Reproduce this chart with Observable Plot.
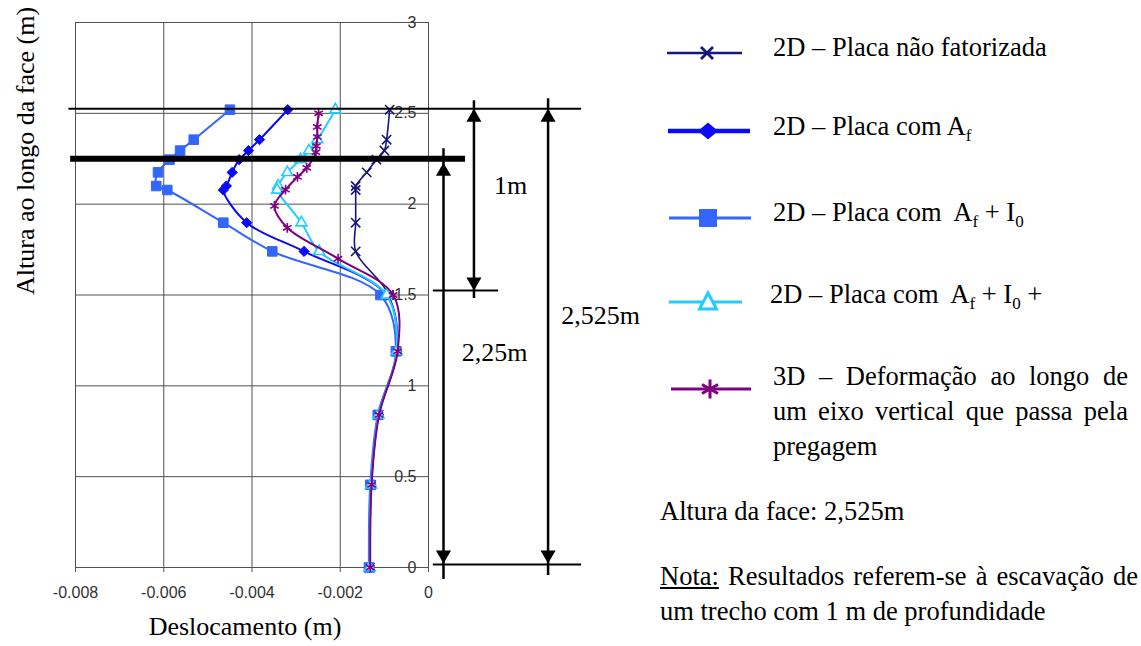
<!DOCTYPE html>
<html>
<head>
<meta charset="utf-8">
<script src="https://cdn.jsdelivr.net/npm/d3@7"></script>
<script src="https://cdn.jsdelivr.net/npm/@observablehq/plot@0.6"></script>
<style>
  body { margin: 0; background: #fff; }
  #fig { position: relative; width: 1141px; height: 646px; overflow: hidden;
         font-family: "Liberation Serif", "Times New Roman", serif; color: #000; }
  #chart { position: absolute; left: 0; top: 0; }
  .txt { position: absolute; font-family: "Liberation Serif", "Times New Roman", serif;
         font-size: 26.5px; line-height: 35px; white-space: nowrap; }
  .just { text-align: justify; text-align-last: justify; }
  .sub { font-size: 17px; position: relative; top: 6px; }
  .nota { text-decoration: underline; }
  .sym { position: absolute; left: 650px; width: 110px; height: 30px; overflow: visible; }
</style>
</head>
<body>
<div id="fig">
  <div id="chart"></div>
</div>
<script>
// Alturas (m) dos nós dos modelos 2D, do topo da face até à base
const alturas2D = [2.52, 2.355, 2.295, 2.245, 2.175, 2.10, 2.078, 1.898, 1.74, 1.5, 1.19, 0.84, 0.455, 0];
// Alturas (m) dos nós do eixo vertical do modelo 3D
const alturas3D = [2.50, 2.425, 2.37, 2.32, 2.286, 2.20, 2.15, 2.08, 1.99, 1.87, 1.70, 1.5, 1.19, 0.84, 0.455, 0];

// Deslocamentos horizontais (m)
const placaNaoFatorizada = [-0.00088, -0.00095, -0.00100, -0.00118, -0.00140, -0.00165, -0.00165, -0.00165, -0.00165, -0.00090, -0.00072, -0.00113, -0.00130, -0.00133];
const placaComAf = [-0.00319, -0.00383, -0.00408, -0.00429, -0.00445, -0.00458, -0.00465, -0.00412, -0.00282, -0.00095, -0.00072, -0.00113, -0.00130, -0.00133];
const placaComAfI0 = [-0.00450, -0.00532, -0.00563, -0.00587, -0.00613, -0.00617, -0.00592, -0.00465, -0.00354, -0.00109, -0.00074, -0.00115, -0.00132, -0.00135];
const placaComAfI0Mais = [-0.00211, -0.00252, -0.00271, -0.00290, -0.00320, -0.00341, -0.00343, -0.00288, -0.00248, -0.00095, -0.00072, -0.00113, -0.00130, -0.00133];
const deformacao3D = [-0.00249, -0.00252, -0.00252, -0.00254, -0.00255, -0.00276, -0.00297, -0.00324, -0.00349, -0.00320, -0.00205, -0.00080, -0.00070, -0.00112, -0.00129, -0.00132];

// Marcas dos eixos
const xTicks = [-0.008, -0.006, -0.004, -0.002, 0];
const yTicks = [0, 0.5, 1, 1.5, 2, 2.5, 3];

// Cotas geométricas (m)
const alturaFace = 2.525;
const alturaPregagem = 2.25;
const profEscavacao = 1;

const pontos = (alturas, desl) => alturas.map((y, i) => ({ y, x: desl[i] }));

const series = [
  { dados: pontos(alturas2D, placaNaoFatorizada), cor: "#16167c", simbolo: "times", r: 4.3, largura: 1.6, cheio: false },
  { dados: pontos(alturas2D, placaComAf), cor: "#0a0af5", simbolo: "diamond2", r: 4.6, largura: 2, cheio: true },
  { dados: pontos(alturas2D, placaComAfI0), cor: "#3366ff", simbolo: "square", r: 5.4, largura: 2, cheio: true },
  { dados: pontos(alturas2D, placaComAfI0Mais), cor: "#22ccff", simbolo: "triangle2", r: 5.2, largura: 2, cheio: false },
  { dados: pontos(alturas3D, deformacao3D), cor: "#800080", simbolo: "asterisk", r: 4.6, largura: 2, cheio: false }
];

const marcasSeries = series.flatMap(s => [
  Plot.line(s.dados, { x: "x", y: "y", curve: "catmull-rom", stroke: s.cor, strokeWidth: s.largura }),
  Plot.dot(s.dados, s.cheio
    ? { x: "x", y: "y", symbol: s.simbolo, r: s.r, fill: s.cor, stroke: s.cor, strokeWidth: 1 }
    : { x: "x", y: "y", symbol: s.simbolo, r: s.r, fill: s.simbolo === "triangle2" ? "white" : "none", stroke: s.cor, strokeWidth: 1.6 })
]);

// Posições horizontais das cotas, à direita do gráfico (unidades do eixo x)
const xCota225 = 0.00034, xCota1 = 0.00103, xCota2525 = 0.00271;
const pontaSeta = 8.66;

const chart = Plot.plot({
  width: 640,
  height: 646,
  marginLeft: 75,
  marginRight: 212,
  marginTop: 22,
  marginBottom: 79,
  x: { domain: [-0.008, 0], label: null },
  y: { domain: [0, 3], label: null },
  style: { fontFamily: "'Liberation Sans', Arial, sans-serif", fontSize: "16px", color: "#333", background: "white", overflow: "visible" },
  marks: [
    Plot.ruleX(xTicks, { stroke: "#505050", strokeWidth: 1 }),
    Plot.ruleY(yTicks, { stroke: "#505050", strokeWidth: 1 }),
    Plot.axisX({ ticks: xTicks, tickSize: 5, tickPadding: 14, fontSize: 16, stroke: "#505050",
      tickFormat: d => d === 0 ? "0" : d.toFixed(3) }),
    Plot.axisY({ anchor: "right", ticks: yTicks, tickSize: 0, tickPadding: 0, dx: -12, textAnchor: "end", fontSize: 16,
      tickFormat: d => String(d) }),
    ...marcasSeries,
    // Linhas de referência: topo da face, pregagem, fundo da escavação e base
    Plot.ruleY([alturaFace], { x1: -0.00815, x2: 0.00347, stroke: "black", strokeWidth: 2 }),
    Plot.ruleY([alturaPregagem], { x1: -0.00811, x2: 0.00084, stroke: "black", strokeWidth: 6 }),
    Plot.ruleY([alturaFace - profEscavacao], { x1: 0.00011, x2: 0.00159, stroke: "black", strokeWidth: 2 }),
    Plot.ruleY([0], { x1: 0.00011, x2: 0.00347, stroke: "black", strokeWidth: 2, dy: -3 }),
    // Cotas
    Plot.ruleX([xCota225], { y1: 0, y2: alturaPregagem, stroke: "black", strokeWidth: 2.5, insetTop: 12, insetBottom: 10 }),
    Plot.ruleX([xCota1], { y1: alturaFace - profEscavacao, y2: alturaFace, stroke: "black", strokeWidth: 2.5, insetTop: 8, insetBottom: 8 }),
    Plot.ruleX([xCota2525], { y1: 0, y2: alturaFace, stroke: "black", strokeWidth: 2.5, insetTop: 8, insetBottom: 10 }),
    Plot.dot([{ x: xCota1, y: alturaFace }, { x: xCota2525, y: alturaFace }],
      { x: "x", y: "y", symbol: "triangle", r: 5.6, fill: "black", dy: pontaSeta }),
    Plot.dot([{ x: xCota225, y: alturaPregagem }],
      { x: "x", y: "y", symbol: "triangle", r: 5.6, fill: "black", dy: pontaSeta + 4 }),
    Plot.dot([{ x: xCota1, y: alturaFace - profEscavacao }],
      { x: "x", y: "y", symbol: "triangle", r: 5.6, fill: "black", rotate: 180, dy: -pontaSeta }),
    Plot.dot([{ x: xCota225, y: 0 }, { x: xCota2525, y: 0 }],
      { x: "x", y: "y", symbol: "triangle", r: 5.6, fill: "black", rotate: 180, dy: -pontaSeta - 4 }),
    Plot.text(["1m"], { x: 0.00186, y: 2.10, fontFamily: "'Liberation Serif', serif", fontSize: 26, fill: "black" }),
    Plot.text(["2,25m"], { x: 0.0015, y: 1.18, fontFamily: "'Liberation Serif', serif", fontSize: 26, fill: "black" }),
    Plot.text(["2,525m"], { x: 0.0039, y: 1.385, fontFamily: "'Liberation Serif', serif", fontSize: 26, fill: "black" }),
    // Títulos dos eixos
    Plot.text(["Altura ao longo da face (m)"], { frameAnchor: "left", dx: -50, rotate: -90,
      fontFamily: "'Liberation Serif', serif", fontSize: 26, fill: "black" }),
    Plot.text(["Deslocamento (m)"], { frameAnchor: "bottom", dx: -7, dy: 67,
      fontFamily: "'Liberation Serif', serif", fontSize: 26, fill: "black" })
  ]
});
document.getElementById("chart").appendChild(chart);

// Legenda
const fig = document.getElementById("fig");
const addText = (left, top, html, width) => {
  const t = document.createElement("div");
  t.className = "txt" + (width ? " just" : "");
  t.style.left = left + "px";
  t.style.top = top + "px";
  if (width) t.style.width = width + "px";
  t.innerHTML = html;
  fig.appendChild(t);
};
const legenda = [
  { cy: 53, svg: `<line x1="17" x2="92" y1="15" y2="15" stroke="#16167c" stroke-width="2.5"/>
      <path d="M51,9L63,21M63,9L51,21" stroke="#16167c" stroke-width="2.8"/>`,
    left: 773, linhas: [["2D – Placa não fatorizada"]] },
  { cy: 131, svg: `<line x1="18" x2="100" y1="15" y2="15" stroke="#0a0af5" stroke-width="4.5"/>
      <path d="M58,6.5L68,15L58,23.5L48,15Z" fill="#0a0af5"/>`,
    left: 773, linhas: [["2D – Placa com A<span class='sub'>f</span>"]] },
  { cy: 218, svg: `<line x1="19" x2="101" y1="15" y2="15" stroke="#3366ff" stroke-width="3"/>
      <rect x="49" y="6" width="18" height="18" fill="#3366ff"/>`,
    left: 773, linhas: [["2D – Placa com&nbsp; A<span class='sub'>f</span> + I<span class='sub'>0</span>"]] },
  { cy: 302, svg: `<line x1="19" x2="92" y1="15" y2="15" stroke="#22ccff" stroke-width="3"/>
      <path d="M58,6L66.5,22L49.5,22Z" fill="white" stroke="#22ccff" stroke-width="3"/>`,
    left: 770, linhas: [["2D – Placa com&nbsp; A<span class='sub'>f</span> + I<span class='sub'>0</span> +"]] },
  { cy: 389, svg: `<line x1="21" x2="101" y1="15" y2="15" stroke="#800080" stroke-width="3"/>
      <path d="M60,5.5L60,24.5M52,10.5L68,19.5M52,19.5L68,10.5" stroke="#800080" stroke-width="3"/>`,
    left: 773, linhas: [["3D – Deformação ao longo de", 355], ["um eixo vertical que passa pela", 355], ["pregagem"]] }
];
const topos = [29.7, 108.7, 194.7, 276.7, 358.7];
legenda.forEach((l, k) => {
  const s = document.createElementNS("http://www.w3.org/2000/svg", "svg");
  s.setAttribute("class", "sym");
  s.setAttribute("width", 110);
  s.setAttribute("height", 30);
  s.style.top = (l.cy - 15) + "px";
  s.innerHTML = l.svg;
  fig.appendChild(s);
  l.linhas.forEach(([html, w], j) => addText(l.left, topos[k] + 35 * j, html, w));
});
addText(660, 493.7, "Altura da face: 2,525m");
addText(660, 558.7, "<span class='nota'>Nota:</span> Resultados referem-se à escavação de", 478);
addText(660, 593.7, "um trecho com 1&nbsp;m de profundidade");
</script>
</body>
</html>
